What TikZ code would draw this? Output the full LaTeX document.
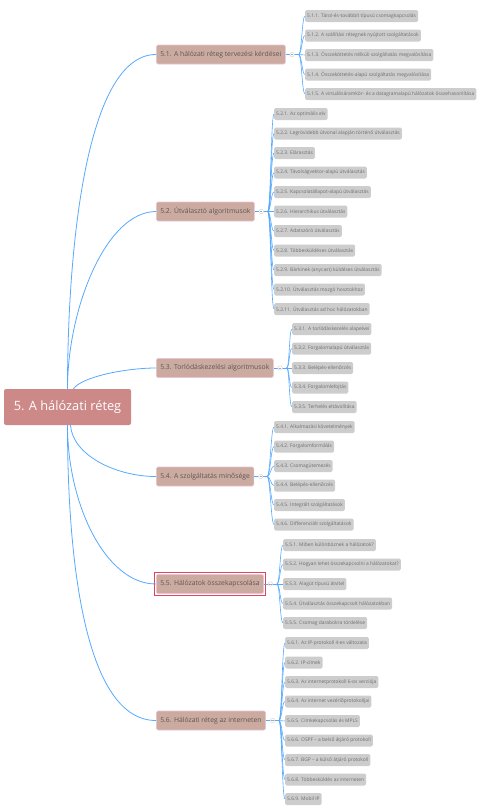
\documentclass[tikz,border=0pt]{standalone}
\usepackage{fontspec}
\setmainfont{Open Sans}

\definecolor{rootred}{HTML}{CD8987}
\definecolor{topictan}{HTML}{CBAAA0}
\definecolor{topicrim}{HTML}{EAC3D3}
\definecolor{topictext}{HTML}{5E5656}
\definecolor{leafgray}{HTML}{CDCDCD}
\definecolor{leaftext}{HTML}{6E6E6E}
\definecolor{linkblue}{HTML}{55A9FF}
\definecolor{selred}{HTML}{E3425E}

\tikzset{
  chapter/.style={fill=rootred, rounded corners=2pt, text=white, minimum width=127pt,
    minimum height=36pt, font=\fontsize{12.8}{14}\selectfont},
  topic/.style={fill=topictan, draw=topicrim, line width=0.6pt, rounded corners=1.5pt,
    text=topictext, anchor=west, minimum height=19pt, inner xsep=4pt,
    font=\fontsize{6.8}{8}\selectfont},
  leaf/.style={fill=leafgray, rounded corners=1.5pt, text=leaftext, anchor=west,
    minimum height=12pt, inner xsep=2pt, inner ysep=1pt, font=\fontsize{4.9}{6}\selectfont},
  trunk/.style={draw=linkblue, line width=0.8pt},
  twig/.style={draw=linkblue, line width=0.6pt},
  toggle/.style={circle, draw=gray!35, fill=white, inner sep=0pt, minimum size=4.5pt}
}

\begin{document}
\begin{tikzpicture}[x=1pt,y=1pt]
    \useasboundingbox (0,0) rectangle (483,-812);

    % chapter and its sections
    \node[chapter] (root) at (67.5,-407) {5. A hálózati réteg};
    \node[topic] (s1) at (156,-54.5) {5.1. A hálózati réteg tervezési kérdései};
    \node[topic] (s2) at (156,-211.5) {5.2. Útválasztó algoritmusok};
    \node[topic] (s3) at (156,-368) {5.3. Torlódáskezelési algoritmusok};
    \node[topic] (s4) at (156,-476.5) {5.4. A szolgáltatás minősége};
    \node[topic] (s5) at (156,-584) {5.5. Hálózatok összekapcsolása};
    \node[topic] (s6) at (156,-720.5) {5.6. Hálózati réteg az interneten};
    \draw[selred, line width=0.9pt] ([shift={(-2pt,-2pt)}]s5.south west) rectangle ([shift={(2pt,2pt)}]s5.north east);

    \draw[trunk] (root.north) .. controls +(0,140) and +(-70,0) .. (s1.west);
    \draw[trunk] (root.north) .. controls +(0,80) and +(-50,0) .. (s2.west);
    \draw[trunk] ([xshift=6pt]root.north) .. controls +(8,12) and +(-30,0) .. (s3.west);
    \draw[trunk] ([xshift=3pt]root.south) .. controls +(2,-30) and +(-40,0) .. (s4.west);
    \draw[trunk] (root.south) .. controls +(0,-80) and +(-50,0) .. (s5.west);
    \draw[trunk] (root.south) .. controls +(0,-140) and +(-70,0) .. (s6.west);

    % forks behind each section
    \foreach \s in {1,...,6} {
        \coordinate (f\s) at ([xshift=13pt]s\s.east);
        \draw[trunk] (s\s.east) -- (f\s);
        \node[toggle] (t\s) at ([xshift=6.5pt]s\s.east) {};
        \draw[gray!70, line width=0.4pt] ([xshift=-1.2pt]t\s.center) -- ([xshift=1.2pt]t\s.center);
    }

    % 5.1
    \foreach \t [count=\i from 0] in {5.1.1. Tárol-és-továbbít típusú csomagkapcsolás,
        5.1.2. A szállítási rétegnek nyújtott szolgáltatások,
        5.1.3. Összeköttetés nélküli szolgáltatás megvalósítása,
        5.1.4. Összeköttetés-alapú szolgáltatás megvalósítása,
        5.1.5. A virtuálisáramkör- és a datagramalapú hálózatok összehasonlítása} {
        \node[leaf] (a\i) at (305,{-16-19.5*\i}) {\t};
        \draw[twig] (f1) .. controls +(3,0) and +(-3,0) .. (a\i.west);
    }

    % 5.2
    \foreach \t [count=\i from 0] in {5.2.1. Az optimális elv,
        5.2.2. Legrövidebb útvonal alapján történő útválasztás,
        5.2.3. Elárasztás,
        5.2.4. Távolságvektor-alapú útválasztás,
        5.2.5. Kapcsolatállapot-alapú útválasztás,
        5.2.6. Hierarchikus útválasztás,
        5.2.7. Adatszóró útválasztás,
        5.2.8. Többesküldéses útválasztás,
        5.2.9. Bárkinek (anycast) küldéses útválasztás,
        5.2.10. Útválasztás mozgó hosztokhoz,
        5.2.11. Útválasztás ad hoc hálózatokban} {
        \node[leaf] (b\i) at (274,{-114-19.5*\i}) {\t};
        \draw[twig] (f2) .. controls +(3,0) and +(-3,0) .. (b\i.west);
    }

    % 5.3
    \foreach \t [count=\i from 0] in {5.3.1. A torlódáskezelés alapelvei,
        5.3.2. Forgalomalapú útválasztás,
        5.3.3. Belépés-ellenőrzés,
        5.3.4. Forgalomlefojtás,
        5.3.5. Terhelés eltávolítása} {
        \node[leaf] (c\i) at (292,{-329-19.5*\i}) {\t};
        \draw[twig] (f3) .. controls +(3,0) and +(-3,0) .. (c\i.west);
    }

    % 5.4
    \foreach \t [count=\i from 0] in {5.4.1. Alkalmazási követelmények,
        5.4.2. Forgalomformálás,
        5.4.3. Csomagütemezés,
        5.4.4. Belépés-ellenőrzés,
        5.4.5. Integrált szolgáltatások,
        5.4.6. Differenciált szolgáltatások} {
        \node[leaf] (d\i) at (274,{-427-19.5*\i}) {\t};
        \draw[twig] (f4) .. controls +(3,0) and +(-3,0) .. (d\i.west);
    }

    % 5.5
    \foreach \t [count=\i from 0] in {5.5.1. Miben különböznek a hálózatok?,
        5.5.2. Hogyan lehet összekapcsolni a hálózatokat?,
        5.5.3. Alagút típusú átvitel,
        5.5.4. Útválasztás összekapcsolt hálózatokban,
        5.5.5. Csomag darabokra tördelése} {
        \node[leaf] (e\i) at (283,{-545-19.5*\i}) {\t};
        \draw[twig] (f5) .. controls +(3,0) and +(-3,0) .. (e\i.west);
    }

    % 5.6
    \foreach \t [count=\i from 0] in {5.6.1. Az IP-protokoll 4-es változata,
        5.6.2. IP-címek,
        5.6.3. Az internetprotokoll 6-os verziója,
        5.6.4. Az internet vezérlőprotokolljai,
        5.6.5. Címkekapcsolás és MPLS,
        5.6.6. OSPF – a belső átjáró protokoll,
        5.6.7. BGP – a külső átjáró protokoll,
        5.6.8. Többesküldés az interneten,
        5.6.9. Mobil IP} {
        \node[leaf] (g\i) at (285,{-643-19.5*\i}) {\t};
        \draw[twig] (f6) .. controls +(3,0) and +(-3,0) .. (g\i.west);
    }
\end{tikzpicture}
\end{document}
